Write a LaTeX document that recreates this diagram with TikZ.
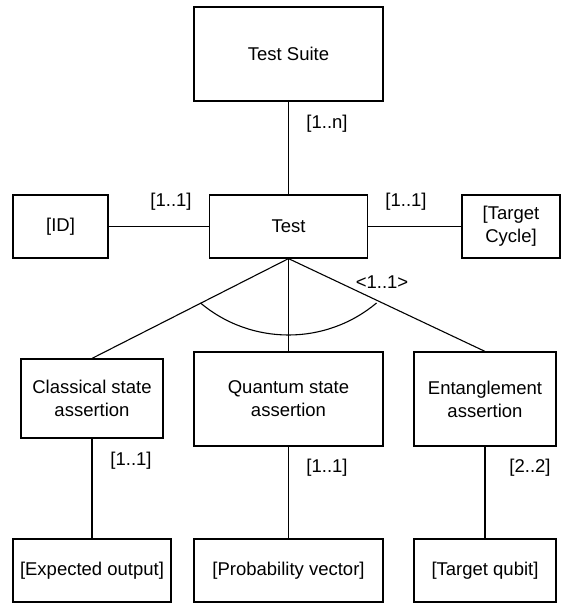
\documentclass[tikz,border=0pt]{standalone}
\usepackage{fontspec}
\setmainfont{Liberation Sans}
\begin{document}
\begin{tikzpicture}[x=1pt,y=1pt,
  box/.style={draw=black,line width=1.2pt,rectangle,inner sep=0pt,align=center,
    font=\fontsize{18.5}{23}\selectfont},
  conn/.style={draw=black,line width=1.1pt},
  lbl/.style={inner sep=0pt,font=\fontsize{18.5}{23}\selectfont}]
\useasboundingbox (0,0) rectangle (561,-603);
% boxes
\node[box,minimum width=189pt,minimum height=94pt] (suite) at (288.5,-54) {Test Suite};
\node[box,minimum width=158pt,minimum height=63pt] (test) at (288.5,-226.5) {Test};
\node[box,minimum width=95pt,minimum height=63pt] (id) at (60.5,-226.5) {[ID]};
\node[box,minimum width=98pt,minimum height=63pt] (cycle) at (511,-226.5) {[Target\\Cycle]};
\node[box,minimum width=142pt,minimum height=79pt] (classical) at (92,-398.5) {Classical state\\assertion};
\node[box,minimum width=189pt,minimum height=94pt] (quantum) at (288.5,-399) {Quantum state\\assertion};
\node[box,minimum width=142pt,minimum height=94pt] (entangle) at (485,-399) {Entanglement\\assertion};
\node[box,minimum width=158pt,minimum height=63pt] (expected) at (92,-570.5) {[Expected output]};
\node[box,minimum width=189pt,minimum height=63pt] (prob) at (288.5,-570.5) {[Probability vector]};
\node[box,minimum width=142pt,minimum height=63pt] (qubit) at (485,-570.5) {[Target qubit]};
% connectors
\draw[conn] (suite.south) -- (test.north);
\draw[conn] (id.east) -- (test.west);
\draw[conn] (test.east) -- (cycle.west);
\draw[conn] (test.south) -- (classical.north);
\draw[conn] (test.south) -- (quantum.north);
\draw[conn] (test.south) -- (entangle.north);
\draw[conn] (classical.south) -- (expected.north);
\draw[conn] (quantum.south) -- (prob.north);
\draw[conn] (entangle.south) -- (qubit.north);
% arc
\coordinate (arcc) at (288.5,-198);
\draw[conn] ([shift={(230:137pt)}]arcc) arc[start angle=230,end angle=310,radius=137pt];
% labels
\node[lbl] (l1) at (327,-124) {[1..n]};
\node[lbl] (l2) at (171,-202) {[1..1]};
\node[lbl] (l3) at (406,-202) {[1..1]};
\node[lbl] (l4) at (382,-282) {<1..1>};
\node[lbl] (l5) at (131,-461) {[1..1]};
\node[lbl] (l6) at (327,-468) {[1..1]};
\node[lbl] (l7) at (530,-468) {[2..2]};
\end{tikzpicture}
\end{document}
